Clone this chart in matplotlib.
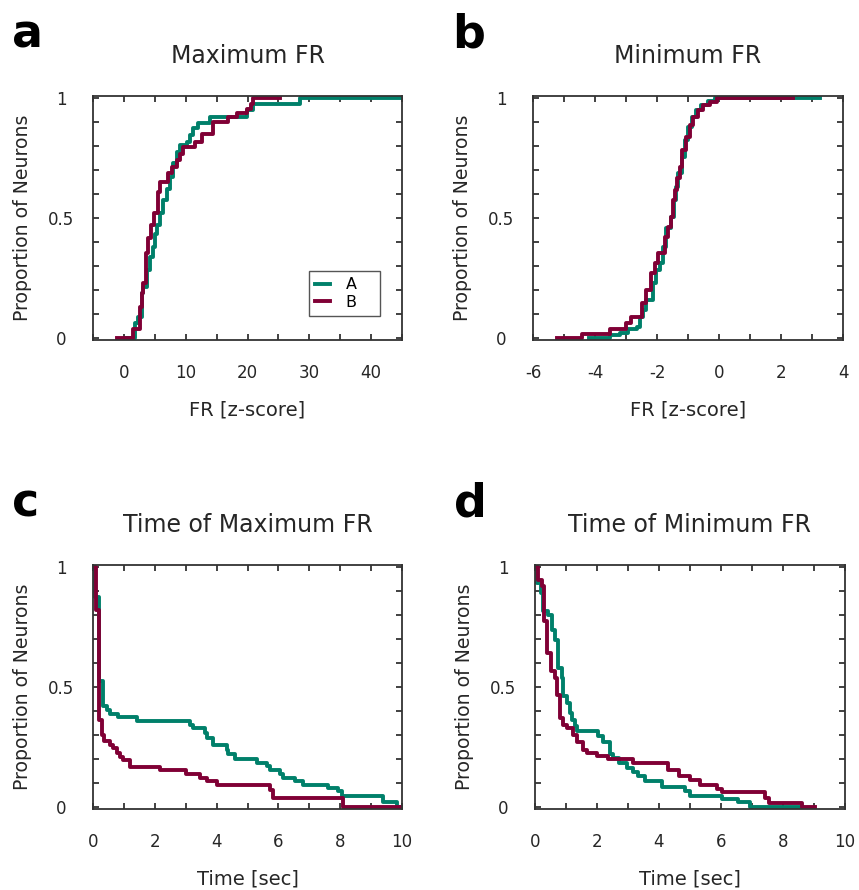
import numpy as np
import matplotlib
matplotlib.use("Agg")
from matplotlib import pyplot as plt
from matplotlib.ticker import MultipleLocator, FixedLocator

plt.rcParams["font.family"] = ["DejaVu Sans"]
plt.rcParams["axes.unicode_minus"] = False

COLOR_A = "#00806a"
COLOR_B = "#800035"
TEXT = "#262626"

# step curves (post): level y[i] holds from x[i] to x[i+1]
max_fr_a_x = [0.18, 1.80, 2.33, 2.88, 3.15, 3.69, 4.23, 4.76, 5.03, 5.41, 5.84, 6.27, 6.92,
              7.46, 8.0, 8.54, 9.08, 10.16, 10.70, 11.23, 12.04, 13.93, 19.87, 20.9, 28.5, 44.7]
max_fr_a_y = [0.0, 0.06, 0.087, 0.185, 0.213, 0.282, 0.338, 0.38, 0.435, 0.47, 0.519, 0.575, 0.623,
              0.672, 0.728, 0.776, 0.804, 0.818, 0.846, 0.874, 0.895, 0.922, 0.95, 0.978, 1.0, 1.0]
max_fr_b_x = [-1.07, 1.52, 2.61, 2.88, 3.15, 3.53, 3.96, 4.33, 4.87, 5.57, 5.84, 7.19, 7.73,
              8.54, 9.08, 9.51, 11.5, 12.59, 14.47, 16.9, 18.25, 19.87, 20.6, 20.9, 25.3]
max_fr_b_y = [0.0, 0.035, 0.129, 0.185, 0.227, 0.352, 0.415, 0.47, 0.519, 0.609, 0.651, 0.686, 0.714,
              0.742, 0.769, 0.797, 0.818, 0.853, 0.901, 0.922, 0.937, 0.957, 0.978, 1.0, 1.0]

min_fr_a_x = [-4.19, -3.53, -3.2, -2.94, -2.66, -2.56, -2.45, -2.34, -2.13, -2.02, -1.91, -1.81, -1.72,
              -1.54, -1.46, -1.40, -1.32, -1.21, -1.11, -1.0, -0.86, -0.73, -0.57, -0.35, -0.14, 3.25]
min_fr_a_y = [0.0, 0.011, 0.02, 0.035, 0.045, 0.087, 0.114, 0.157, 0.227, 0.282, 0.31, 0.38, 0.46,
              0.505, 0.575, 0.63, 0.686, 0.755, 0.825, 0.88, 0.922, 0.95, 0.971, 0.99, 1.0, 1.0]
min_fr_b_x = [-5.23, -4.41, -3.53, -2.99, -2.83, -2.50, -2.36, -2.18, -2.07, -1.97, -1.75, -1.65, -1.54,
              -1.48, -1.43, -1.37, -1.27, -1.18, -1.05, -0.95, -0.84, -0.68, -0.52, -0.30, -0.08, 2.39]
min_fr_b_y = [0.0, 0.015, 0.035, 0.062, 0.087, 0.143, 0.199, 0.268, 0.31, 0.352, 0.421, 0.463, 0.505,
              0.575, 0.616, 0.665, 0.714, 0.783, 0.839, 0.888, 0.922, 0.95, 0.971, 0.985, 1.0, 1.0]

t_max_a_x = [0, 0.05, 0.19, 0.31, 0.44, 0.55, 0.82, 1.41, 3.14, 3.25, 3.62, 3.68, 3.89, 4.33, 4.38,
             4.60, 5.30, 5.62, 5.73, 6.05, 6.16, 6.54, 6.81, 7.61, 7.94, 8.05, 9.39, 9.83, 10]
t_max_a_y = [1.0, 0.878, 0.524, 0.419, 0.405, 0.387, 0.373, 0.357, 0.343, 0.329, 0.308, 0.287, 0.259,
             0.238, 0.218, 0.197, 0.183, 0.169, 0.155, 0.138, 0.12, 0.109, 0.092, 0.078, 0.064, 0.046,
             0.018, 0.0, 0.0]
t_max_b_x = [0, 0.10, 0.20, 0.28, 0.36, 0.55, 0.66, 0.77, 0.87, 0.98, 1.20, 2.17, 3.01, 3.46, 3.68,
             4.0, 5.73, 5.82, 8.1, 10]
t_max_b_y = [1.0, 0.823, 0.364, 0.301, 0.273, 0.259, 0.243, 0.225, 0.208, 0.194, 0.166, 0.152, 0.138,
             0.12, 0.106, 0.092, 0.071, 0.037, 0.0, 0.0]

t_min_a_x = [0, 0.05, 0.2, 0.27, 0.43, 0.54, 0.65, 0.75, 0.86, 0.91, 1.02, 1.13, 1.18, 1.29, 1.34,
             2.04, 2.20, 2.42, 2.53, 2.72, 2.96, 3.17, 3.33, 3.55, 4.09, 4.84, 5.0, 6.02, 6.56, 6.94, 8.55]
t_min_a_y = [1.0, 0.935, 0.893, 0.816, 0.802, 0.74, 0.698, 0.58, 0.538, 0.461, 0.433, 0.392, 0.364,
             0.336, 0.315, 0.294, 0.269, 0.222, 0.204, 0.183, 0.162, 0.144, 0.127, 0.106, 0.083, 0.064,
             0.046, 0.033, 0.018, 0.0, 0.0]
t_min_b_x = [0, 0.1, 0.22, 0.29, 0.40, 0.51, 0.65, 0.70, 0.81, 0.89, 1.02, 1.24, 1.34, 1.54, 1.67,
             1.99, 2.37, 3.17, 4.30, 4.66, 5.0, 5.32, 5.86, 6.02, 7.42, 7.56, 8.60, 9.03]
t_min_b_y = [1.0, 0.948, 0.923, 0.774, 0.642, 0.565, 0.538, 0.468, 0.371, 0.343, 0.329, 0.301, 0.269,
             0.238, 0.225, 0.21, 0.197, 0.183, 0.152, 0.127, 0.113, 0.092, 0.074, 0.06, 0.037, 0.016,
             0.0, 0.0]

panels = [
    ("a", "Maximum FR", "FR [z-score]", (-5, 45), 10, 5,
     (max_fr_a_x, max_fr_a_y), (max_fr_b_x, max_fr_b_y)),
    ("b", "Minimum FR", "FR [z-score]", (-6, 4), 2, 1,
     (min_fr_a_x, min_fr_a_y), (min_fr_b_x, min_fr_b_y)),
    ("c", "Time of Maximum FR", "Time [sec]", (0, 10), 2, 1,
     (t_max_a_x, t_max_a_y), (t_max_b_x, t_max_b_y)),
    ("d", "Time of Minimum FR", "Time [sec]", (0, 10), 2, 1,
     (t_min_a_x, t_min_a_y), (t_min_b_x, t_min_b_y)),
]

# axes rectangles in figure fractions
rects = [
    [0.1083, 0.618, 0.3597, 0.2742],
    [0.6205, 0.618, 0.3609, 0.2742],
    [0.1083, 0.091, 0.3597, 0.2742],
    [0.6228, 0.091, 0.3609, 0.2742],
]

fig = plt.figure(figsize=(8.59, 8.90), dpi=100)

for (letter, title, xlabel, xlim, xmaj, xmin, ser_a, ser_b), rect in zip(panels, rects):
    ax = fig.add_axes(rect)
    ax.step(ser_a[0], ser_a[1], where="post", color=COLOR_A, lw=2.8, label="A")
    ax.step(ser_b[0], ser_b[1], where="post", color=COLOR_B, lw=2.8, label="B")

    ax.set_xlim(*xlim)
    ax.set_ylim(-0.01, 1.01)
    ax.xaxis.set_major_locator(MultipleLocator(xmaj))
    ax.xaxis.set_minor_locator(MultipleLocator(xmin))
    ax.yaxis.set_major_locator(FixedLocator([0, 0.5, 1]))
    ax.yaxis.set_minor_locator(MultipleLocator(0.1))
    ax.set_yticklabels(["0", "0.5", "1"])
    ax.tick_params(which="both", direction="in", top=True, right=True,
                   length=4, width=1.3, color="#333333", labelcolor=TEXT, labelsize=12)
    ax.tick_params(axis="x", which="major", pad=17.5)
    ax.tick_params(axis="y", which="major", pad=23)
    for lab in ax.get_yticklabels():
        lab.set_horizontalalignment("center")
    for sp in ax.spines.values():
        sp.set_linewidth(1.3)
        sp.set_color("#333333")

    ax.set_title(title, fontsize=17, color=TEXT, pad=24)
    ax.set_xlabel(xlabel, fontsize=14, color=TEXT, labelpad=13)
    ax.set_ylabel("Proportion of Neurons", fontsize=13.6, color=TEXT, labelpad=11.5)

    bb = ax.get_position()
    fig.text(bb.x0 - 0.094, bb.y1 + 0.0545, letter, fontsize=33, fontweight="bold",
             color="black", ha="left", va="baseline")

    if letter == "a":
        leg = ax.legend(loc="lower left", bbox_to_anchor=(0.699, 0.098, 0.23, 0.18),
                        mode="expand", borderaxespad=0, fontsize=11.5, handlelength=0.9,
                        handletextpad=1.0, borderpad=0.4, labelspacing=0.15,
                        fancybox=False, framealpha=1)
        leg.get_frame().set_edgecolor("#555555")
        leg.get_frame().set_linewidth(1.0)

fig.savefig("out.png", dpi=100)
